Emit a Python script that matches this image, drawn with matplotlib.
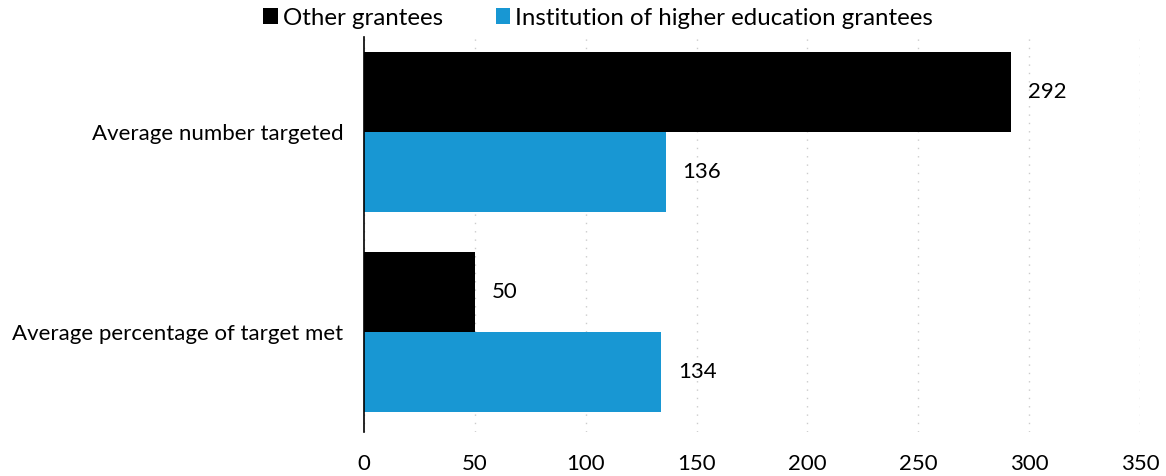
import matplotlib.pyplot as plt
import numpy as np

plt.rcParams['font.family'] = ['Lato', 'DejaVu Sans']

categories = ['Average number targeted', 'Average percentage of target met']
series_names = ['Other grantees', 'Institution of higher education grantees']
other = [292, 50]
ihe = [136, 134]
colors = ['#000000', '#1897D3']
xticks = [0, 50, 100, 150, 200, 250, 300, 350]

fig = plt.figure(figsize=(11.66, 4.76), dpi=100)
ax = fig.add_axes([0.3122, 0.0924, 0.6655, 0.83])

y = np.arange(len(categories))
h = 0.4
for i, (vals, name) in enumerate(zip([other, ihe], series_names)):
    pos = y - h / 2 + i * h
    ax.barh(pos, vals, height=h, color=colors[i], label=name)
    for p, v in zip(pos, vals):
        ax.annotate(str(v), (v, p), xytext=(12, 0), textcoords='offset points',
                    va='center', ha='left', fontsize=16)

ax.set_xlim(0, 350)
ax.set_ylim(1.5, -0.475)
ax.set_xticks(xticks)
ax.set_xticklabels([str(t) for t in xticks], fontsize=16)
ax.set_yticks(y)
ax.set_yticklabels(categories, fontsize=16)
ax.tick_params(axis='x', length=0, pad=16)
ax.tick_params(axis='y', length=0, pad=15)
for s in ['top', 'right', 'bottom']:
    ax.spines[s].set_visible(False)
ax.spines['left'].set_color('black')
ax.spines['left'].set_linewidth(1.2)
ax.set_axisbelow(True)
ax.xaxis.grid(True, linestyle=(0, (1, 5)), color='#cccccc', linewidth=1)

handles, labels = ax.get_legend_handles_labels()
fig.legend(handles, labels, loc='center', bbox_to_anchor=(598 / 1166, 0.962),
           ncol=2, frameon=False, fontsize=17.3, handlelength=0.6,
           handleheight=0.6, handletextpad=0.2, columnspacing=2.2,
           borderaxespad=0, borderpad=0)

fig.savefig('out.png', dpi=100)
